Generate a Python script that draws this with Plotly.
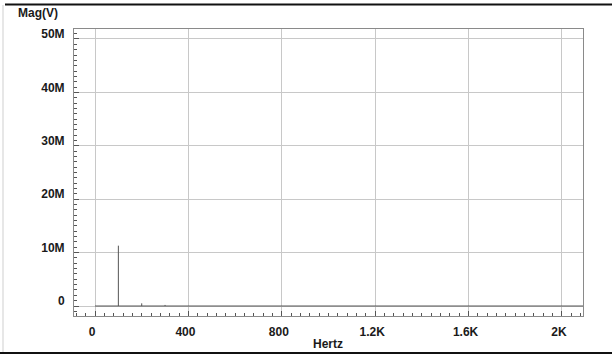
import plotly.graph_objects as go

# Spectrum data (Hz, volts)
spike_freq = [100, 200, 300]
spike_mag = [11.3e6, 0.5e6, 0.2e6]
baseline_freq = [0, 2090]

x_tickvals = [0, 400, 800, 1200, 1600, 2000]
x_ticktext = ["0", "400", "800", "1.2K", "1.6K", "2K"]
y_tickvals = [0, 10e6, 20e6, 30e6, 40e6, 50e6]
y_ticktext = ["0", "10M", "20M", "30M", "40M", "50M"]

xs, ys = [], []
xs += [baseline_freq[0], baseline_freq[1], None]
ys += [0, 0, None]
for f, m in zip(spike_freq, spike_mag):
    xs += [f, f, None]
    ys += [0, m, None]

fig = go.Figure()
fig.add_trace(go.Scatter(x=xs, y=ys, mode="lines",
                         line=dict(color="#555555", width=1),
                         hoverinfo="skip", showlegend=False))

font_main = dict(family="Liberation Sans, Arial, sans-serif", size=12,
                 color="#1a1a1a", weight="bold")

fig.update_layout(
    width=612, height=356,
    margin=dict(l=74, r=29, t=29, b=40),
    paper_bgcolor="white", plot_bgcolor="white",
    font=font_main,
    xaxis=dict(
        range=[-90, 2090], tickvals=x_tickvals, ticktext=x_ticktext,
        showgrid=True, gridcolor="#c8c8c8", gridwidth=1,
        zeroline=False, showline=True, linecolor="#8a8a8a", linewidth=1,
        mirror=True, ticks="inside", ticklen=5, tickcolor="#555555",
        ticklabelshift=-3, ticklabelstandoff=5,
        minor=dict(dtick=40, tick0=0, ticks="inside", ticklen=3,
                   tickcolor="#555555", showgrid=False),
        tickfont=font_main,
    ),
    yaxis=dict(
        range=[-1.87e6, 51.87e6], tickvals=y_tickvals, ticktext=y_ticktext,
        showgrid=True, gridcolor="#c8c8c8", gridwidth=1,
        zeroline=False, showline=True, linecolor="#8a8a8a", linewidth=1,
        mirror=True, ticks="inside", ticklen=5, tickcolor="#555555",
        ticklabelshift=-5, ticklabelstandoff=6,
        minor=dict(dtick=1e6, tick0=0, ticks="inside", ticklen=3,
                   tickcolor="#555555", showgrid=False),
        tickfont=font_main,
    ),
    annotations=[
        dict(text="Mag(V)", xref="paper", yref="paper",
             x=(38 - 74) / 509, y=(316 - 13) / 287, showarrow=False,
             xanchor="center", yanchor="middle",
             font=font_main),
        dict(text="Hertz", xref="paper", yref="paper",
             x=(328 - 74) / 509, y=(316 - 344) / 287, showarrow=False,
             xanchor="center", yanchor="middle",
             font=font_main),
    ],
    shapes=[
        dict(type="line", xref="paper", yref="paper",
             x0=(5 - 74) / 509, x1=(612 - 74) / 509,
             y0=(316 - 4.5) / 287, y1=(316 - 4.5) / 287,
             line=dict(color="#111111", width=2)),
        dict(type="line", xref="paper", yref="paper",
             x0=(0 - 74) / 509, x1=(612 - 74) / 509,
             y0=(316 - 353) / 287, y1=(316 - 353) / 287,
             line=dict(color="#111111", width=2)),
        dict(type="line", xref="paper", yref="paper",
             x0=(3 - 74) / 509, x1=(3 - 74) / 509,
             y0=(316 - 5) / 287, y1=(316 - 352) / 287,
             line=dict(color="#cfcfcf", width=1)),
    ],
)

fig.write_html("out.html",
               config={"displayModeBar": False},
               post_script="document.body.style.margin='0';"
                           "document.body.style.padding='0';"
                           "document.body.style.overflow='hidden';")
